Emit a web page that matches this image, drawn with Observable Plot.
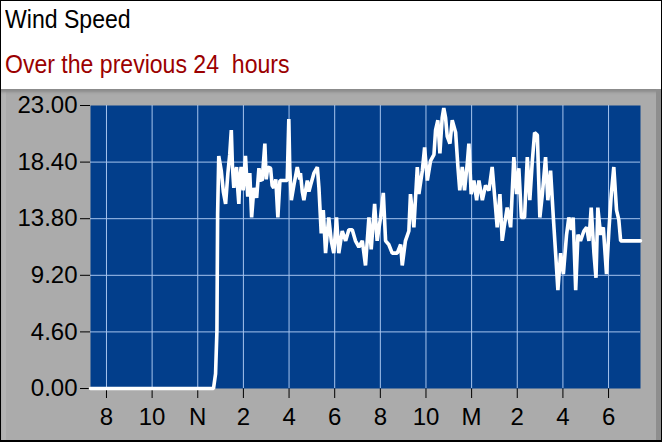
<!DOCTYPE html>
<html><head><meta charset="utf-8">
<script src="https://cdn.jsdelivr.net/npm/d3@7"></script>
<script src="https://cdn.jsdelivr.net/npm/@observablehq/plot@0.6"></script>
<style>
html,body{margin:0;padding:0;background:#fff;}
#wrap{position:relative;width:662px;height:442px;overflow:hidden;background:#fff;font-family:"Liberation Sans",Arial,sans-serif;}
.hd{position:absolute;left:5px;font-size:26.5px;line-height:1;transform:scaleX(0.87);transform-origin:0 0;white-space:pre;}
#title{top:6px;color:#000;}
#subtitle{top:51px;color:#9b0000;}
#panel{position:absolute;left:0;top:89px;width:662px;height:353px;background:#ababab;
  box-shadow: inset -6px 0 0 #8e8e8e, inset 0 3px 3px #8a8a8a, inset 6px 0 0 #b4b4b4;}
#panel svg{position:absolute;left:0;top:0;}
#border{position:absolute;left:0;top:0;width:662px;height:442px;box-sizing:border-box;border:1px solid #000;border-bottom-width:2px;pointer-events:none;}
</style>
</head><body>
<div id="wrap">
  <div id="title" class="hd">Wind Speed</div>
  <div id="subtitle" class="hd">Over the previous 24  hours</div>
  <div id="panel"></div>
  <div id="border"></div>
</div>
<script>
const titleText = "Wind Speed";
const subtitleText = "Over the previous 24  hours";

// time in hours (7.3 = 07:18 first day; 24+ = next day)
const times = [7.30,12.69,12.78,12.84,12.87,12.92,13.03,13.12,13.22,13.32,13.40,13.47,13.52,13.58,13.64,13.70,13.76,13.80,13.84,13.90,13.99,14.09,14.19,14.28,14.36,14.46,14.58,14.68,14.75,14.82,14.94,15.00,15.07,15.19,15.26,15.33,15.42,15.51,15.60,15.92,15.99,16.03,16.10,16.21,16.36,16.47,16.50,16.58,16.65,16.80,16.87,16.94,17.09,17.24,17.31,17.41,17.50,17.60,17.67,17.74,17.85,17.96,18.08,18.18,18.33,18.48,18.62,18.77,18.91,19.06,19.21,19.35,19.50,19.60,19.75,19.86,20.01,20.13,20.23,20.37,20.52,20.74,20.89,20.96,21.10,21.25,21.32,21.47,21.62,21.69,21.84,21.94,22.06,22.20,22.35,22.42,22.52,22.61,22.71,22.78,22.86,22.93,23.05,23.15,23.30,23.40,23.48,23.59,23.69,23.81,23.88,23.98,24.10,24.22,24.32,24.47,24.61,24.76,24.90,25.01,25.12,25.24,25.34,25.44,25.56,25.71,25.85,25.97,26.07,26.18,26.32,26.44,26.55,26.66,26.76,26.88,26.99,27.10,27.24,27.34,27.46,27.58,27.68,27.78,27.90,28.02,28.16,28.26,28.37,28.45,28.56,28.66,28.77,28.92,29.04,29.14,29.24,29.36,29.45,29.53,29.65,29.77,29.91,30.02,30.12,30.23,30.35,30.45,30.53,31.40];
const speeds = [0,0,1.2,4.7,14.2,18.9,17.7,16.0,15.0,17.5,19.0,21.0,18.0,16.3,17.5,18.0,16.0,15.0,17.0,18.0,16.1,18.9,15.6,17.5,13.9,16.3,15.5,17.9,17.0,16.9,19.9,17.0,18.0,17.9,16.5,16.3,17.0,13.9,16.9,16.9,21.9,18.0,15.3,16.5,18.0,17.0,17.5,16.0,15.3,16.9,16.0,16.5,17.5,18.0,16.3,12.6,14.5,11.0,12.5,13.9,12.0,11.0,13.9,11.0,12.8,12.0,12.9,12.9,12.0,11.5,12.0,10.0,13.9,11.3,15.0,12.0,13.9,15.9,12.0,11.7,11.0,11.0,11.7,10.0,12.0,12.8,15.8,13.1,18.0,15.8,17.7,19.6,16.9,18.5,19.0,21.0,21.8,19.1,22.0,22.8,22.0,20.5,19.9,21.8,20.8,18.0,16.1,18.0,16.1,18.3,19.9,15.8,16.9,15.3,16.9,15.3,16.5,16.1,18.0,15.6,13.1,15.8,12.0,13.3,14.7,13.1,18.8,15.8,17.9,13.9,13.9,18.8,15.3,18.5,20.8,20.6,13.9,15.8,18.8,15.3,17.7,13.9,11.0,8.0,11.0,9.3,12.5,13.9,12.9,13.9,8.0,12.5,12.0,12.8,13.1,12.0,14.7,11.0,9.0,14.7,12.5,13.1,9.3,13.0,15.8,18.0,14.5,13.7,12.0,12.0];

const xTickValues = [8,10,12,14,16,18,20,22,24,26,28,30];
const xTickLabels = ["8","10","N","2","4","6","8","10","M","2","4","6"];
const yTickValues = [0,4.6,9.2,13.8,18.4,23];
const xDomain = [7.3, 31.4];
const yDomain = [0, 23];

document.getElementById("title").textContent = titleText;
document.getElementById("subtitle").textContent = subtitleText;

const data = times.map((t, i) => ({t, v: speeds[i]}));
const xLabel = new Map(xTickValues.map((v, i) => [v, xTickLabels[i]]));

const chart = Plot.plot({
  width: 662,
  height: 353,
  marginLeft: 90,
  marginRight: 22,
  marginTop: 16,
  marginBottom: 54,
  style: {background: "transparent", color: "#000", fontFamily: "'Liberation Sans', Arial, sans-serif", fontSize: "24px", overflow: "visible"},
  x: {domain: xDomain, ticks: xTickValues, tickFormat: d => xLabel.get(d), tickSize: 10, tickPadding: 9, label: null},
  y: {domain: yDomain, ticks: yTickValues, tickFormat: d => d.toFixed(2), tickSize: 10, tickPadding: 3, label: null},
  marks: [
    Plot.frame({fill: "#023e8b", stroke: "none"}),
    Plot.ruleX(xTickValues, {stroke: "#a7c4ee", strokeWidth: 1}),
    Plot.ruleY(yTickValues.filter(v => v > yDomain[0] && v < yDomain[1]), {stroke: "#a7c4ee", strokeWidth: 1}),
    Plot.line(data, {x: "t", y: "v", stroke: "#ffffff", strokeWidth: 3.6, strokeLinejoin: "miter"})
  ]
});
document.getElementById("panel").appendChild(chart);
</script>
</body></html>
